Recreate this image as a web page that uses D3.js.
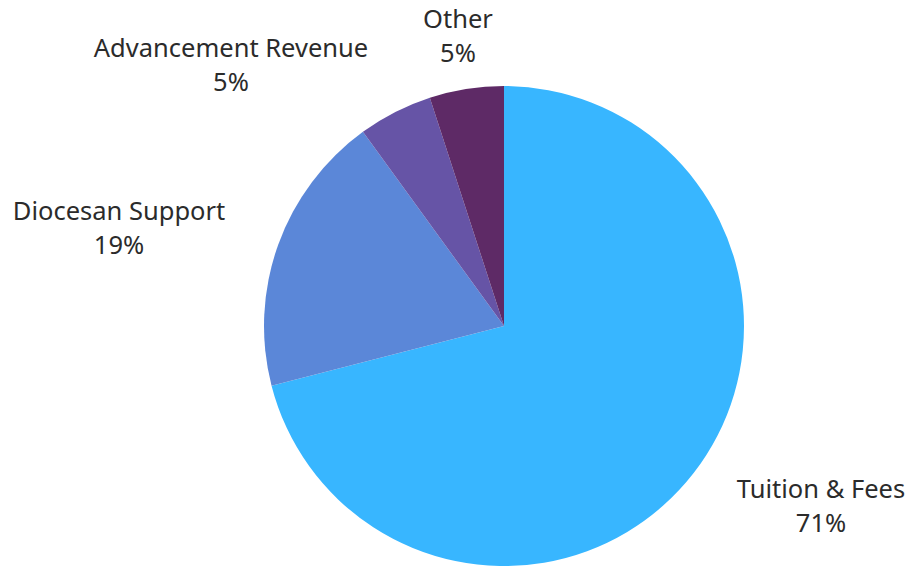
<!DOCTYPE html>
<html>
<head>
<meta charset="utf-8">
<script src="https://cdn.jsdelivr.net/npm/d3@7"></script>
<style>
  html, body { margin: 0; padding: 0; background: #fff; }
  svg text { font-family: "Noto Sans", "Open Sans", sans-serif; fill: #2b2b2b; }
</style>
</head>
<body>
<svg id="chart" width="915" height="569"></svg>
<script>
// data
const categories = ["Tuition & Fees", "Diocesan Support", "Advancement Revenue", "Other"];
const values = [71, 19, 5, 5];
const colors = ["#38b6ff", "#5b87d8", "#6654a6", "#5e2a66"];

// label anchors (baseline of the name line, relative to pie centre)
const labelPos = [[317, 172], [-385, -106], [-273, -269], [-46, -298]];

const width = 915, height = 569;
const cx = 504, cy = 326, radius = 240;

const svg = d3.select("#chart");
const g = svg.append("g").attr("transform", `translate(${cx},${cy})`);

const pie = d3.pie().sort(null).value(d => d.value);
const arc = d3.arc().innerRadius(0).outerRadius(radius);

const rows = categories.map((c, i) => ({ name: c, value: values[i], color: colors[i], pos: labelPos[i] }));
const arcs = pie(rows);

g.selectAll("path.slice")
  .data(arcs)
  .enter()
  .append("path")
  .attr("class", "slice")
  .attr("d", arc)
  .attr("fill", d => d.data.color);

const total = d3.sum(values);
const labels = g.selectAll("g.label")
  .data(arcs)
  .enter()
  .append("g")
  .attr("class", "label")
  .attr("transform", d => `translate(${d.data.pos[0]},${d.data.pos[1]})`);

labels.append("text")
  .attr("text-anchor", "middle")
  .attr("y", 0)
  .style("font-size", "25.5px")
  .text(d => d.data.name);

labels.append("text")
  .attr("text-anchor", "middle")
  .attr("y", 34)
  .style("font-size", "25.5px")
  .text(d => Math.round(d.data.value / total * 100) + "%");
</script>
</body>
</html>
